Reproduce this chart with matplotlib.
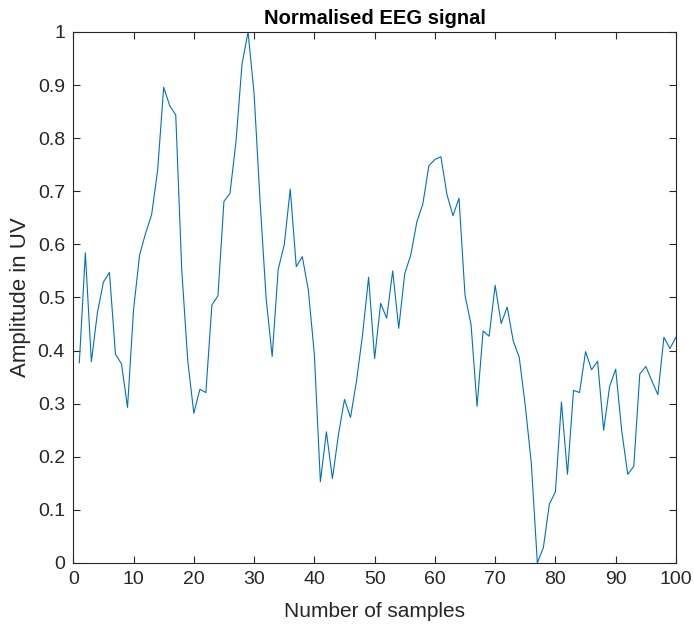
import numpy as np
import matplotlib.pyplot as plt
from matplotlib import font_manager

# normalised EEG amplitude, one value per sample (1..100)
samples = np.arange(1, 101)
amplitude = [
    0.377, 0.584, 0.379, 0.471, 0.529, 0.547, 0.393, 0.375, 0.293, 0.477,
    0.580, 0.621, 0.656, 0.740, 0.896, 0.861, 0.844, 0.551, 0.380, 0.282,
    0.327, 0.321, 0.486, 0.503, 0.681, 0.696, 0.794, 0.940, 1.000, 0.884,
    0.680, 0.498, 0.389, 0.553, 0.599, 0.704, 0.558, 0.577, 0.514, 0.393,
    0.153, 0.247, 0.159, 0.242, 0.308, 0.274, 0.343, 0.430, 0.538, 0.385,
    0.489, 0.461, 0.550, 0.442, 0.545, 0.580, 0.642, 0.676, 0.748, 0.760,
    0.765, 0.694, 0.654, 0.687, 0.504, 0.449, 0.295, 0.437, 0.427, 0.523,
    0.451, 0.482, 0.418, 0.387, 0.296, 0.188, 0.000, 0.029, 0.111, 0.134,
    0.303, 0.167, 0.325, 0.321, 0.398, 0.364, 0.380, 0.250, 0.333, 0.365,
    0.249, 0.167, 0.182, 0.356, 0.370, 0.343, 0.317, 0.425, 0.404, 0.425,
]
xticks = np.arange(0, 101, 10)
yticks = np.round(np.arange(0, 1.01, 0.1), 1)
ytick_labels = ['0'] + ['%.1f' % v for v in yticks[1:-1]] + ['1']

names = {f.name for f in font_manager.fontManager.ttflist}
family = 'Liberation Sans Narrow' if 'Liberation Sans Narrow' in names else 'Liberation Sans'
plt.rcParams['font.family'] = [family, 'DejaVu Sans']

fig = plt.figure(figsize=(6.94, 6.32), dpi=100)
ax = fig.add_axes([0.1056, 0.1092, 0.8684, 0.8402])

ax.plot(samples, amplitude, color='#0072BD', linewidth=0.8)

ax.set_xlim(0, 100)
ax.set_ylim(0, 1)
ax.set_xticks(xticks)
ax.set_yticks(yticks)
ax.set_yticklabels(ytick_labels)

axcol = '#262626'
for s in ax.spines.values():
    s.set_color(axcol)
    s.set_linewidth(0.8)
ax.tick_params(direction='in', top=True, right=True, length=5, width=0.8,
               colors=axcol, labelsize=14, pad=6)
for lab in ax.get_xticklabels() + ax.get_yticklabels():
    lab.set_color(axcol)

ax.set_title('Normalised EEG signal', fontsize=14.5, fontweight='bold', color='black', pad=5.5)
ax.set_xlabel('Number of samples', fontsize=15, color=axcol, labelpad=10)
ax.set_ylabel('Amplitude in UV', fontsize=16, color=axcol, labelpad=5)

fig.savefig('out.png', dpi=100)
